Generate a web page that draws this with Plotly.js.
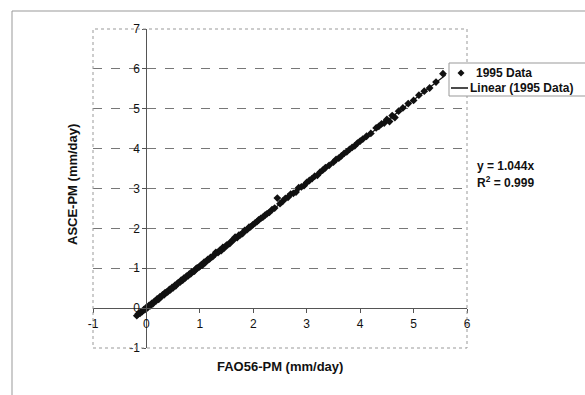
<!DOCTYPE html>
<html>
<head>
<meta charset="utf-8">
<script src="https://cdn.plot.ly/plotly-3.0.1.min.js"></script>
<style>html,body{margin:0;padding:0;background:#fff;}#chart{width:585px;height:395px;}</style>
</head>
<body>
<div id="chart"></div>
<script>
// FAO56-PM (x) vs ASCE-PM (y), mm/day, 1995 data
var fao56 = [-0.18,-0.15,-0.12,-0.1,-0.08,-0.05,-0.03,0,0.02,0.05,0.07,0.1,0.12,0.15,0.18,0.2,0.23,0.25,0.28,0.3,
  0.33,0.35,0.38,0.4,0.43,0.45,0.48,0.5,0.53,0.55,0.58,0.6,0.63,0.65,0.68,0.7,0.73,0.75,0.78,0.8,
  0.83,0.85,0.88,0.9,0.93,0.95,0.98,1.0,1.03,1.05,1.08,1.1,1.13,1.15,1.18,1.2,1.24,1.28,1.3,1.34,
  1.37,1.4,1.43,1.46,1.5,1.53,1.56,1.6,1.63,1.66,1.7,1.73,1.76,1.8,1.84,1.88,1.92,1.95,1.99,2.03,
  2.07,2.1,2.14,2.18,2.22,2.26,2.3,2.35,2.4,2.45,2.5,2.55,2.6,2.65,2.7,2.75,2.8,2.85,2.9,2.95,
  3.0,3.05,3.1,3.15,3.2,3.25,3.3,3.35,3.42,3.5,3.55,3.6,3.65,3.7,3.75,3.8,3.85,3.9,3.95,4.0,
  4.05,4.12,4.2,4.3,4.35,4.4,4.45,4.5,4.55,4.6,4.65,4.72,4.8,4.9,5.0,5.1,5.2,5.3,5.42,5.55];
var ascePM = [-0.19,-0.14,-0.13,-0.09,-0.09,-0.04,-0.04,0.02,0.01,0.07,0.06,0.12,0.11,0.17,0.18,0.23,0.22,0.28,0.29,0.33,
  0.33,0.39,0.40,0.41,0.47,0.46,0.52,0.51,0.57,0.56,0.62,0.64,0.65,0.70,0.70,0.75,0.76,0.80,0.81,0.85,
  0.86,0.91,0.92,0.93,0.99,1.01,1.02,1.05,1.09,1.08,1.15,1.14,1.19,1.22,1.23,1.27,1.29,1.35,1.40,1.39,
  1.45,1.44,1.52,1.51,1.58,1.60,1.62,1.69,1.71,1.78,1.77,1.83,1.84,1.87,1.95,1.96,2.03,2.04,2.09,2.13,
  2.17,2.21,2.25,2.28,2.33,2.37,2.40,2.47,2.51,2.76,2.62,2.68,2.75,2.78,2.86,2.88,2.91,3.02,3.04,3.07,
  3.15,3.20,3.25,3.31,3.33,3.41,3.46,3.52,3.58,3.66,3.73,3.76,3.82,3.88,3.92,3.98,4.03,4.07,4.14,4.19,
  4.24,4.31,4.38,4.52,4.56,4.62,4.64,4.73,4.68,4.83,4.78,4.94,5.02,5.13,5.21,5.34,5.44,5.52,5.67,5.88];
var trendSlope = 1.044;
var trendX = [-0.2, 5.6];
var trendY = trendX.map(function(v){ return trendSlope * v; });
var tickVals = [-1,0,1,2,3,4,5,6,7];
var seriesNames = ["1995 Data", "Linear (1995 Data)"];
var xTitle = "FAO56-PM (mm/day)";
var yTitle = "ASCE-PM (mm/day)";
var eqLines = ["y = 1.044x", "R<sup>2</sup> = 0.999"];

var FONT = "Liberation Sans, Arial, sans-serif";
// plot area pixel geometry
var L = 93, R = 118, T = 29, B = 47, W = 585, H = 395;
var pw = W - L - R, ph = H - T - B;
function px(x){ return (x - L) / pw; }
function py(y){ return (H - B - y) / ph; }

var traces = [
  {x: fao56, y: ascePM, type: 'scatter', mode: 'markers', name: seriesNames[0],
   marker: {symbol: 'diamond', size: 6, color: '#111'}},
  {x: trendX, y: trendY, type: 'scatter', mode: 'lines', name: seriesNames[1],
   line: {color: '#111', width: 1.2}}
];

// legend drawn by hand so the symbol column is as narrow as in the reference
var dx = 3.5 / pw, dy = 3.5 / ph;
var lx = px(461), ly = py(73);
var legendShapes = [
  {type: 'rect', xref: 'paper', yref: 'paper', x0: px(449), x1: px(600), y0: py(63), y1: py(96),
   line: {color: '#999', width: 1}, fillcolor: '#fff', layer: 'above'},
  {type: 'path', xref: 'paper', yref: 'paper', layer: 'above',
   path: 'M ' + (lx - dx) + ',' + ly + ' L ' + lx + ',' + (ly + dy) + ' L ' + (lx + dx) + ',' + ly + ' L ' + lx + ',' + (ly - dy) + ' Z',
   fillcolor: '#111', line: {color: '#111', width: 0}},
  {type: 'line', xref: 'paper', yref: 'paper', x0: px(451), x1: px(468), y0: py(88), y1: py(88),
   line: {color: '#111', width: 1.5}, layer: 'above'}
];

var layout = {
  width: W, height: H,
  margin: {l: L, r: R, t: T, b: B, autoexpand: false},
  paper_bgcolor: '#fff', plot_bgcolor: '#fff',
  font: {family: FONT, size: 12, color: '#111'},
  showlegend: false,
  xaxis: {range: [-1, 6], tickvals: tickVals, ticktext: tickVals.map(String),
    anchor: 'free', position: 1/8, showline: true, linecolor: '#555', linewidth: 1,
    ticks: 'outside', ticklen: 4, tickcolor: '#555', showgrid: false, zeroline: false,
    tickfont: {family: FONT, size: 12, color: '#111'}},
  yaxis: {range: [-1, 7], tickvals: tickVals, ticktext: tickVals.map(String),
    anchor: 'free', position: 1/7, showline: true, linecolor: '#555', linewidth: 1,
    ticks: 'outside', ticklen: 4, tickcolor: '#555', showgrid: true, gridcolor: '#777',
    griddash: 'dash', gridwidth: 1, zeroline: false,
    tickfont: {family: FONT, size: 12, color: '#111'}},
  shapes: [
    {type: 'rect', xref: 'paper', yref: 'paper', x0: 0, x1: 1, y0: 0, y1: 1,
     line: {color: '#999', width: 1, dash: 'dot'}},
    {type: 'line', xref: 'paper', yref: 'paper', x0: px(12), x1: px(585), y0: py(11), y1: py(11),
     line: {color: '#999', width: 1}},
    {type: 'line', xref: 'paper', yref: 'paper', x0: px(12), x1: px(12), y0: py(11), y1: py(395),
     line: {color: '#999', width: 1}}
  ].concat(legendShapes),
  annotations: [
    {xref: 'paper', yref: 'paper', x: px(474), y: py(73), xanchor: 'left', yanchor: 'middle',
     text: '<b>' + seriesNames[0] + '</b>', showarrow: false, font: {family: FONT, size: 12, color: '#111'}},
    {xref: 'paper', yref: 'paper', x: px(468), y: py(88), xanchor: 'left', yanchor: 'middle',
     text: '<b>' + seriesNames[1] + '</b>', showarrow: false, font: {family: FONT, size: 12, color: '#111'}},
    {xref: 'paper', yref: 'paper', x: px(475), y: py(166), xanchor: 'left', yanchor: 'middle',
     text: '<b>' + eqLines[0] + '</b>', showarrow: false, font: {family: FONT, size: 12, color: '#111'}},
    {xref: 'paper', yref: 'paper', x: px(475), y: py(182), xanchor: 'left', yanchor: 'middle',
     text: '<b>' + eqLines[1] + '</b>', showarrow: false, font: {family: FONT, size: 12, color: '#111'}},
    {xref: 'paper', yref: 'paper', x: px(280), y: py(366), xanchor: 'center', yanchor: 'middle',
     text: '<b>' + xTitle + '</b>', showarrow: false, font: {family: FONT, size: 13, color: '#111'}},
    {xref: 'paper', yref: 'paper', x: px(72), y: py(185), xanchor: 'center', yanchor: 'middle',
     text: '<b>' + yTitle + '</b>', textangle: -90, showarrow: false, font: {family: FONT, size: 13, color: '#111'}}
  ]
};

Plotly.newPlot('chart', traces, layout, {displayModeBar: false, staticPlot: true});
</script>
</body>
</html>
